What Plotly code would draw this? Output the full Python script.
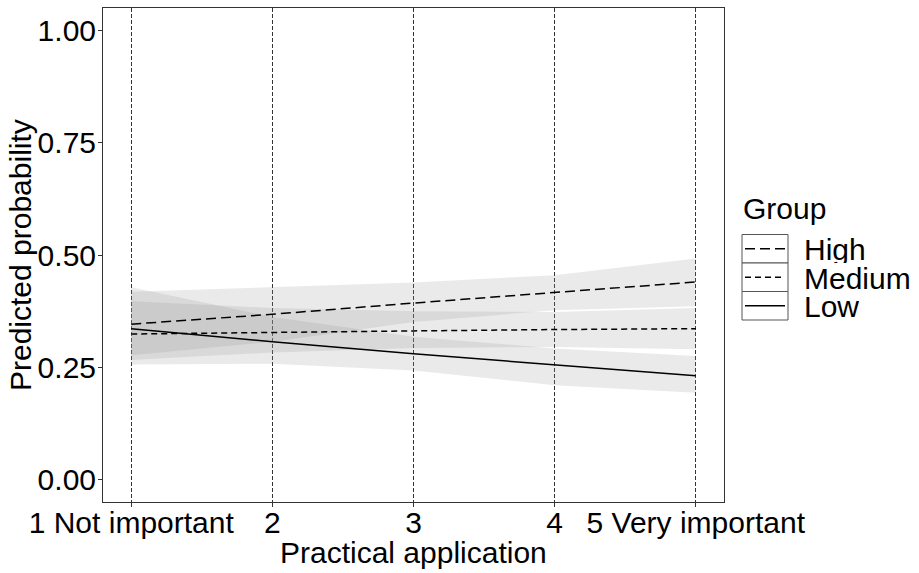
import plotly.graph_objects as go

# ---- data ----
x_vals = [1, 2, 3, 4, 5]
x_ticktext = ["1 Not important", "2", "3", "4", "5 Very important"]
groups = ["High", "Medium", "Low"]

high_fit = [0.346, 0.368, 0.393, 0.416, 0.440]
high_upper = [0.418, 0.429, 0.439, 0.455, 0.492]
high_lower = [0.277, 0.307, 0.351, 0.377, 0.386]

medium_fit = [0.324, 0.328, 0.331, 0.334, 0.336]
medium_upper = [0.397, 0.382, 0.375, 0.373, 0.382]
medium_lower = [0.266, 0.283, 0.293, 0.295, 0.290]

low_fit = [0.336, 0.307, 0.280, 0.255, 0.231]
low_upper = [0.428, 0.362, 0.318, 0.292, 0.275]
low_lower = [0.256, 0.258, 0.243, 0.210, 0.193]

y_tickvals = [0.0, 0.25, 0.5, 0.75, 1.0]
y_ticktext = ["0.00", "0.25", "0.50", "0.75", "1.00"]

series = {
    "High": (high_fit, high_upper, high_lower, "10px,5px"),
    "Medium": (medium_fit, medium_upper, medium_lower, "6px,4px"),
    "Low": (low_fit, low_upper, low_lower, "solid"),
}

FONT = "Liberation Sans, Arial, sans-serif"
FS = 30
W, H = 919, 573
ML, MR, MT, MB = 103, 195, 8, 71
PW, PH = W - ML - MR, H - MT - MB


def px_to_paper_x(px):
    return (px - ML) / PW


def px_to_paper_y(py):
    return (H - MB - py) / PH


fig = go.Figure()

# ribbons
for g in groups:
    fit, up, lo, dash = series[g]
    fig.add_trace(go.Scatter(
        x=x_vals + x_vals[::-1], y=up + lo[::-1],
        fill="toself", fillcolor="rgba(150,150,150,0.2)",
        line=dict(width=0), mode="lines", hoverinfo="skip", showlegend=False,
    ))

# lines
for g in groups:
    fit, up, lo, dash = series[g]
    fig.add_trace(go.Scatter(
        x=x_vals, y=fit, mode="lines", name=g,
        line=dict(color="black", width=1.5, dash=dash), showlegend=False,
    ))

fig.update_layout(
    width=W, height=H,
    margin=dict(l=ML, r=MR, t=MT, b=MB, autoexpand=False),
    paper_bgcolor="white", plot_bgcolor="white",
    font=dict(family=FONT, size=FS, color="black"),
    showlegend=False,
)
fig.update_xaxes(
    range=[0.8, 5.2], tickvals=x_vals, ticktext=x_ticktext,
    showgrid=True, gridcolor="#333333", gridwidth=1, griddash="4px,2px",
    showline=True, mirror=True, linecolor="#333333", linewidth=1,
    ticks="outside", ticklen=4, tickcolor="#333333", zeroline=False,
    tickfont=dict(size=FS, color="black"), automargin=False,
    ticklabelstandoff=-10,
)
fig.update_yaxes(
    range=[-0.05, 1.05], tickvals=y_tickvals, ticktext=y_ticktext,
    showgrid=False,
    showline=True, mirror=True, linecolor="#333333", linewidth=1,
    ticks="outside", ticklen=4, tickcolor="#333333", zeroline=False,
    tickfont=dict(size=FS, color="black"), automargin=False,
    ticklabelstandoff=-4,
)

annotations = [
    dict(text="Practical application", xref="paper", yref="paper",
         x=0.5, y=px_to_paper_y(552), xanchor="center", yanchor="middle",
         showarrow=False, font=dict(size=FS)),
    dict(text="Predicted probability", xref="paper", yref="paper",
         x=px_to_paper_x(20), y=0.5, xanchor="center", yanchor="middle",
         textangle=-90, showarrow=False, font=dict(size=FS)),
    dict(text="Group", xref="paper", yref="paper",
         x=px_to_paper_x(741), y=px_to_paper_y(208), xanchor="left", yanchor="middle",
         showarrow=False, font=dict(size=FS)),
]

shapes = []
row_tops = [234.5, 263.0, 291.5]
row_h = 28.5
key_x0, key_x1 = 742, 788
for i, g in enumerate(groups):
    top = row_tops[i]
    bot = top + row_h
    cy = top + row_h / 2
    shapes.append(dict(type="rect", xref="paper", yref="paper",
                       x0=px_to_paper_x(key_x0), x1=px_to_paper_x(key_x1),
                       y0=px_to_paper_y(bot), y1=px_to_paper_y(top),
                       line=dict(color="#555555", width=1), fillcolor="white"))
    dash = series[g][3]
    shapes.append(dict(type="line", xref="paper", yref="paper",
                       x0=px_to_paper_x(745), x1=px_to_paper_x(785),
                       y0=px_to_paper_y(cy), y1=px_to_paper_y(cy),
                       line=dict(color="black", width=1.5, dash=dash)))
    annotations.append(dict(text=g, xref="paper", yref="paper",
                            x=px_to_paper_x(802), y=px_to_paper_y(cy + 1),
                            xanchor="left", yanchor="middle",
                            height=27, valign="middle",
                            showarrow=False, font=dict(size=FS)))

fig.update_layout(annotations=annotations, shapes=shapes)
fig.write_html(
    "out.html",
    config={"displayModeBar": False},
    post_script="document.body.style.margin='0';document.body.style.overflow='hidden';",
)
